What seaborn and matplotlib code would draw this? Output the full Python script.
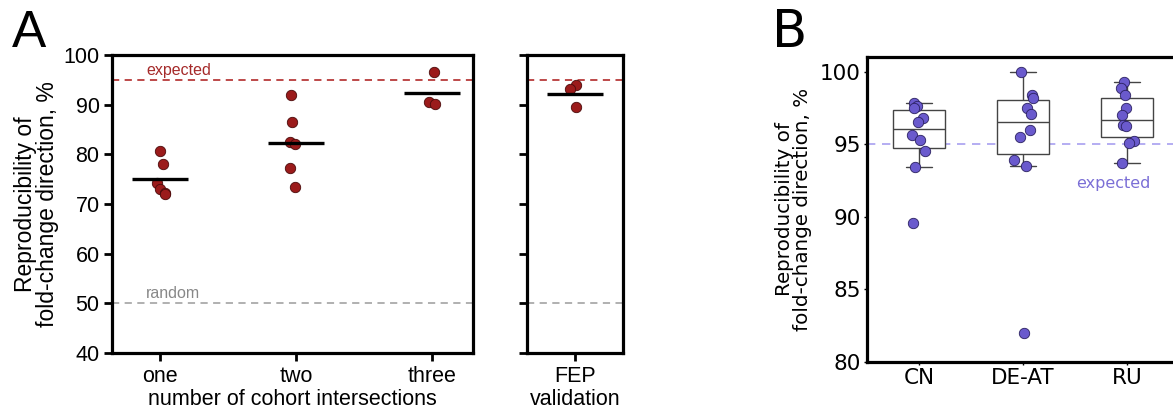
import pandas as pd
import matplotlib.pyplot as plt
import seaborn as sns
import numpy as np

sns.set_style("white")
plt.rcParams.update({'text.color': 'black', 'axes.labelcolor': 'black',
                     'xtick.color': 'black', 'ytick.color': 'black'})

# Panel A: reproducibility by number of cohort intersections
one_vals = [80.7, 78.0, 74.3, 73.0, 72.2, 72.1]
two_vals = [92.0, 86.6, 82.4, 82.0, 77.2, 73.4]
three_vals = [96.6, 90.6, 90.1]
fep_vals = [93.9, 93.1, 89.6]
a_labels = ['one', 'two', 'three']

# Panel B: per-cohort reproducibility
cn_vals = [97.8, 97.6, 97.5, 96.8, 96.5, 95.6, 95.3, 94.5, 93.4, 89.6]
deat_vals = [100.0, 98.4, 98.2, 97.5, 97.1, 96.0, 95.5, 93.9, 93.5, 82.0]
ru_vals = [99.3, 98.85, 98.4, 97.5, 97.0, 96.35, 96.25, 95.2, 95.1, 93.7]
b_labels = ['CN', 'DE-AT', 'RU']

expected = 95
random_level = 50

dfA = pd.DataFrame({
    'group': ['one'] * len(one_vals) + ['two'] * len(two_vals) + ['three'] * len(three_vals),
    'value': one_vals + two_vals + three_vals,
})
dfF = pd.DataFrame({'group': ['FEP'] * len(fep_vals), 'value': fep_vals})
dfB = pd.DataFrame({
    'cohort': ['CN'] * len(cn_vals) + ['DE-AT'] * len(deat_vals) + ['RU'] * len(ru_vals),
    'value': cn_vals + deat_vals + ru_vals,
})

red = '#9b1b1b'
purple = '#6a5acd'
arial = 'Liberation Sans'
dejavu = 'DejaVu Sans'

fig = plt.figure(figsize=(11.73, 4.12), dpi=100)
ax1 = fig.add_axes([0.0955, 0.1432, 0.3078, 0.7233])
ax2 = fig.add_axes([0.4493, 0.1432, 0.0818, 0.7233])
ax3 = fig.add_axes([0.7391, 0.1214, 0.266, 0.7403])

np.random.seed(3)

# ---- Panel A (intersections + FEP validation)
for ax, df, order in [(ax1, dfA, a_labels), (ax2, dfF, ['FEP'])]:
    ax.axhline(expected, color='#b83a3a', ls=(0, (4, 3)), lw=1.3, zorder=1)
    ax.axhline(random_level, color='#aaaaaa', ls=(0, (4, 3)), lw=1.3, zorder=1)
    sns.stripplot(data=df, x='group', y='value', order=order, ax=ax, color=red,
                  jitter=0.05, size=7.5, edgecolor='#4a0a0a', linewidth=0.6, zorder=3)
    sns.pointplot(data=df, x='group', y='value', order=order, ax=ax, color='black',
                  estimator='mean', errorbar=None, linestyle='none', marker='_',
                  markersize=41, markeredgewidth=2.4, zorder=4)
    ax.set_ylim(40, 100)
    ax.set_yticks(range(40, 101, 10))
    for s in ax.spines.values():
        s.set_visible(True)
        s.set_linewidth(2.3)
        s.set_color('black')
    ax.tick_params(axis='both', direction='out', length=6, width=2, labelsize=15.5,
                   left=True, bottom=True, pad=3)
    for lab in ax.get_xticklabels() + ax.get_yticklabels():
        lab.set_fontfamily(arial)

ax1.set_xlim(-0.35, 2.3)
ax2.set_xlim(-0.5, 0.5)
ax1.set_xlabel('number of cohort intersections', fontsize=15.5, family=arial, labelpad=2)
ax1.set_ylabel('Reproducibility of\nfold-change direction, %', fontsize=16.5, family=arial,
               labelpad=3, linespacing=0.95)
ax2.set_xlabel('validation', fontsize=15.5, family=arial, labelpad=2)
ax2.set_ylabel('')
ax2.set_yticklabels([])
ax1.text(-0.1, expected + 0.4, 'expected', color='#a52a2a', fontsize=11.5, family=arial, va='bottom')
ax1.text(-0.1, random_level + 0.4, 'random', color='#888888', fontsize=11.5, family=arial, va='bottom')

# ---- Panel B
ax3.axhline(expected, color='#a89ff0', ls=(0, (5, 4)), lw=1.2, zorder=1)
sns.boxplot(data=dfB, x='cohort', y='value', order=b_labels, ax=ax3, width=0.5,
            showfliers=False, color='white', linecolor='#444444', linewidth=1.0, zorder=2)
sns.stripplot(data=dfB, x='cohort', y='value', order=b_labels, ax=ax3, color=purple,
              jitter=0.1, size=7.5, edgecolor='#2a2060', linewidth=0.6, zorder=3)
ax3.set_xlim(-0.5, 2.5)
ax3.set_ylim(80, 101)
ax3.set_yticks([80, 85, 90, 95, 100])
for s in ax3.spines.values():
    s.set_linewidth(2.3)
    s.set_color('black')
ax3.tick_params(axis='both', direction='out', length=2.5, width=1, labelsize=15.5, pad=2,
                left=True, bottom=True)
for lab in ax3.get_xticklabels() + ax3.get_yticklabels():
    lab.set_fontfamily(dejavu)
ax3.set_xlabel('')
ax3.set_ylabel('Reproducibility of\nfold-change direction, %', fontsize=14.3, family=dejavu,
               labelpad=6, linespacing=0.9)
ax3.text(1.87, 92.3, 'expected', color='#7b6fd6', fontsize=11.5, family=dejavu,
         ha='center', va='center')

fig.text(0.010, 0.885, 'A', fontsize=37, family=arial, va='baseline')
fig.text(0.658, 0.885, 'B', fontsize=37, family=dejavu, va='baseline')

fig.savefig('out.png', dpi=100)
